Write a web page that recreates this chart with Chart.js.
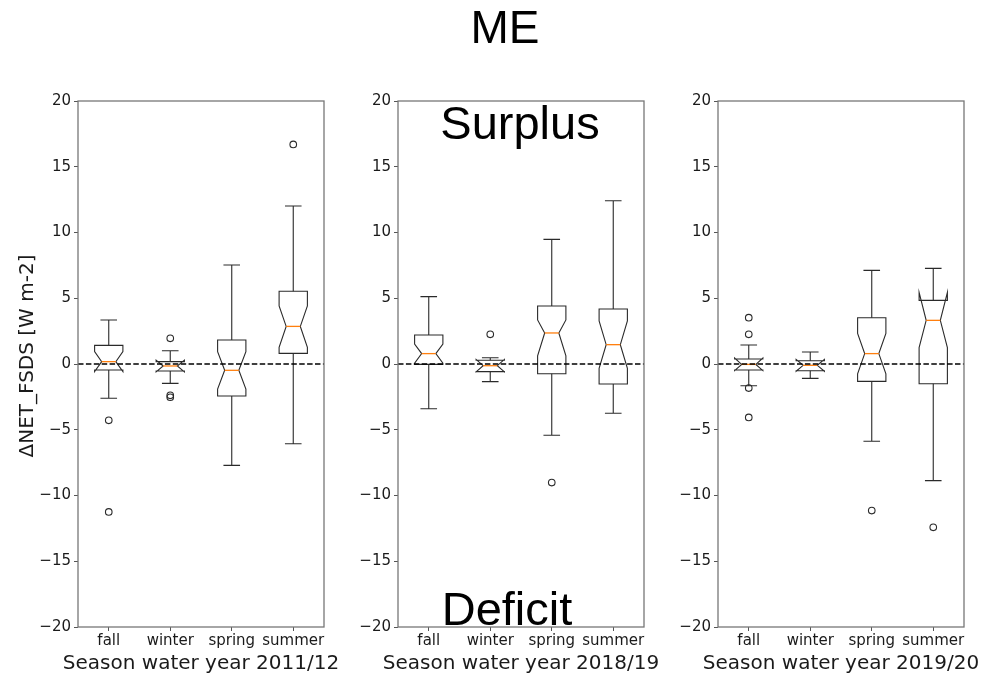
<!DOCTYPE html>
<html>
<head>
<meta charset="utf-8">
<script src="https://cdn.jsdelivr.net/npm/chart.js@4/dist/chart.umd.min.js"></script>
<style>
  html, body { margin:0; padding:0; background:#fff; }
  #wrap { position:relative; width:982px; height:674px; overflow:hidden; background:#fff; }
  canvas { position:absolute; top:0; }
  .lbl { position:absolute; font-family:'Liberation Sans', Arial, sans-serif; color:#000; line-height:1; white-space:nowrap; transform:translateX(-50%); z-index:5; }
</style>
</head>
<body>
<div id="wrap">
  <canvas id="c1" width="345" height="674" style="left:0px"></canvas>
  <canvas id="c2" width="325" height="674" style="left:335px"></canvas>
  <canvas id="c3" width="327" height="674" style="left:655px"></canvas>
  <div class="lbl" style="left:505px; top:4px; font-size:46px;">ME</div>
  <div class="lbl" style="left:520px; top:99px; font-size:47px;">Surplus</div>
  <div class="lbl" style="left:507px; top:585px; font-size:47px;">Deficit</div>
</div>
<script>
// ---------- data ----------
const categories = ['fall', 'winter', 'spring', 'summer'];
const xTitles = ['Season water year 2011/12', 'Season water year 2018/19', 'Season water year 2019/20'];
const yTitle = 'ΔNET_FSDS [W m-2]';
const yTicks = [-20, -15, -10, -5, 0, 5, 10, 15, 20];

// 2011/12
const whiskerLow11  = [-2.61, -1.47, -7.71, -6.06];
const q1_11         = [-0.46, -0.53, -2.43,  0.81];
const median11      = [ 0.18, -0.15, -0.48,  2.86];
const q3_11         = [ 1.42,  0.18,  1.83,  5.53];
const whiskerHigh11 = [ 3.35,  1.01,  7.53, 12.02];
const notchLow11    = [-0.58, -0.60, -1.90,  1.27];
const notchHigh11   = [ 0.94,  0.30,  0.94,  4.41];
const outliers11    = [[-4.28, -11.25], [1.95, -2.38, -2.53], [], [16.7]];

// 2018/19
const whiskerLow18  = [-3.40, -1.34, -5.42, -3.75];
const q1_18         = [-0.03, -0.58, -0.74, -1.52];
const median18      = [ 0.79, -0.13,  2.36,  1.47];
const q3_18         = [ 2.21,  0.28,  4.41,  4.18];
const whiskerHigh18 = [ 5.12,  0.48,  9.48, 12.42];
const notchLow18    = [ 0.06, -0.60,  0.63, -0.33];
const notchHigh18   = [ 1.52,  0.35,  3.35,  3.27];
const outliers18    = [[], [2.26], [-9.02], []];

// 2019/20
const whiskerLow19  = [-1.65, -1.09, -5.88, -8.87];
const q1_19         = [-0.46, -0.51, -1.32, -1.50];
const median19      = [-0.03, -0.10,  0.79,  3.32];
const q3_19         = [ 0.38,  0.25,  3.52,  4.84];
const whiskerHigh19 = [ 1.44,  0.91,  7.12,  7.27];
const notchLow19    = [-0.50, -0.55, -0.75,  1.25];
const notchHigh19   = [ 0.45,  0.35,  2.33,  5.45];
const outliers19    = [[3.52, 2.26, -1.83, -4.06], [], [-11.15], [-12.42]];

// ---------- styling ----------
const BOX_W = 0.46, CAP_W = 0.27;
const tickFont = { family: 'DejaVu Sans', size: 15 };
const textColor = '#1a1a1a';
const lineColor = '#2a2a2a';
const frameColor = '#777';

function fmt(v) { return v < 0 ? '\u2212' + Math.abs(v) : String(v); }

function makePanel(id, stats, outliers, xTitle, yWidth, rightPad, showY) {
  const pts = [];
  outliers.forEach((arr, i) => arr.forEach(v => pts.push({ x: i + 1, y: v })));

  const boxPlugin = {
    id: 'boxes' + id,
    beforeDatasetsDraw(chart) {
      const { ctx, scales: { x: xs, y: ys } } = chart;
      const Y = v => ys.getPixelForValue(v);
      ctx.save();
      ctx.lineWidth = 1.1;
      ctx.strokeStyle = lineColor;
      for (let i = 0; i < categories.length; i++) {
        const cx = xs.getPixelForValue(i + 1);
        const hw = xs.getPixelForValue(i + 1 + BOX_W / 2) - cx;
        const cw = hw * 0.5;
        const capHw = xs.getPixelForValue(i + 1 + CAP_W / 2) - cx;
        // whiskers
        ctx.beginPath();
        ctx.moveTo(cx, Y(stats.q1[i])); ctx.lineTo(cx, Y(stats.wl[i]));
        ctx.moveTo(cx, Y(stats.q3[i])); ctx.lineTo(cx, Y(stats.wh[i]));
        ctx.moveTo(cx - capHw, Y(stats.wl[i])); ctx.lineTo(cx + capHw, Y(stats.wl[i]));
        ctx.moveTo(cx - capHw, Y(stats.wh[i])); ctx.lineTo(cx + capHw, Y(stats.wh[i]));
        ctx.stroke();
        // notched box
        ctx.beginPath();
        ctx.moveTo(cx - hw, Y(stats.q1[i]));
        ctx.lineTo(cx - hw, Y(stats.nl[i]));
        ctx.lineTo(cx - cw, Y(stats.med[i]));
        ctx.lineTo(cx - hw, Y(stats.nh[i]));
        ctx.lineTo(cx - hw, Y(stats.q3[i]));
        ctx.lineTo(cx + hw, Y(stats.q3[i]));
        ctx.lineTo(cx + hw, Y(stats.nh[i]));
        ctx.lineTo(cx + cw, Y(stats.med[i]));
        ctx.lineTo(cx + hw, Y(stats.nl[i]));
        ctx.lineTo(cx + hw, Y(stats.q1[i]));
        ctx.closePath();
        ctx.stroke();
        // median
        ctx.beginPath();
        ctx.strokeStyle = '#ff7f0e';
        ctx.lineWidth = 1.3;
        ctx.moveTo(cx - cw, Y(stats.med[i])); ctx.lineTo(cx + cw, Y(stats.med[i]));
        ctx.stroke();
        ctx.strokeStyle = lineColor;
        ctx.lineWidth = 1.1;
      }
      ctx.restore();
    },
    afterDatasetsDraw(chart) {
      const { ctx, chartArea: a, scales: { y: ys } } = chart;
      const y0 = ys.getPixelForValue(0);
      ctx.save();
      ctx.strokeStyle = '#000';
      ctx.lineWidth = 1.5;
      ctx.setLineDash([5.5, 2.4]);
      ctx.beginPath();
      ctx.moveTo(a.left, y0); ctx.lineTo(a.right, y0);
      ctx.stroke();
      ctx.setLineDash([]);
      ctx.strokeStyle = frameColor;
      ctx.lineWidth = 1.3;
      ctx.strokeRect(a.left, a.top, a.right - a.left, a.bottom - a.top);
      ctx.restore();
    },
    afterDraw(chart) {
      // axis titles (drawn unsqueezed, like the reference)
      const { ctx, chartArea: a } = chart;
      ctx.save();
      ctx.fillStyle = textColor;
      ctx.font = '20px "DejaVu Sans"';
      ctx.textAlign = 'center';
      ctx.textBaseline = 'alphabetic';
      ctx.fillText(xTitle, (a.left + a.right) / 2, 668.5);
      if (showY) {
        ctx.translate(32.5, (a.top + a.bottom) / 2 - 8);
        ctx.rotate(-Math.PI / 2);
        ctx.fillText(yTitle, 0, 0);
      }
      ctx.restore();
    }
  };

  return new Chart(document.getElementById(id), {
    type: 'scatter',
    data: {
      datasets: [{
        data: pts,
        pointRadius: 3.3,
        pointHoverRadius: 3.3,
        pointBorderWidth: 1.1,
        pointBorderColor: lineColor,
        pointBackgroundColor: 'rgba(0,0,0,0)',
        showLine: false
      }]
    },
    options: {
      responsive: false,
      animation: false,
      devicePixelRatio: 1,
      events: [],
      layout: { padding: { top: 101, right: rightPad, left: 0, bottom: 0 } },
      plugins: { legend: { display: false }, tooltip: { enabled: false } },
      scales: {
        x: {
          type: 'linear', min: 0.5, max: 4.5,
          afterBuildTicks: s => { s.ticks = categories.map((c, i) => ({ value: i + 1 })); },
          ticks: {
            callback: v => categories[Math.round(v) - 1],
            font: tickFont, color: textColor, padding: 1,
            maxRotation: 0, autoSkip: false
          },
          grid: { drawOnChartArea: false, drawTicks: true, tickLength: 4, color: '#555' },
          border: { display: false },
          title: { display: false },
          afterFit: s => { s.height = 47; }
        },
        y: {
          min: -20, max: 20,
          afterBuildTicks: s => { s.ticks = yTicks.map(v => ({ value: v })); },
          ticks: { callback: v => fmt(v), font: tickFont, color: textColor, padding: 3 },
          grid: { drawOnChartArea: false, drawTicks: true, tickLength: 4, color: '#555' },
          border: { display: false },
          title: { display: false },
          afterFit: s => { s.width = yWidth; }
        }
      }
    },
    plugins: [boxPlugin]
  });
}

makePanel('c1',
  { wl: whiskerLow11, q1: q1_11, med: median11, q3: q3_11, wh: whiskerHigh11, nl: notchLow11, nh: notchHigh11 },
  outliers11, xTitles[0], 78, 21, true);
makePanel('c2',
  { wl: whiskerLow18, q1: q1_18, med: median18, q3: q3_18, wh: whiskerHigh18, nl: notchLow18, nh: notchHigh18 },
  outliers18, xTitles[1], 63, 16, false);
makePanel('c3',
  { wl: whiskerLow19, q1: q1_19, med: median19, q3: q3_19, wh: whiskerHigh19, nl: notchLow19, nh: notchHigh19 },
  outliers19, xTitles[2], 63, 18, false);
</script>
</body>
</html>
